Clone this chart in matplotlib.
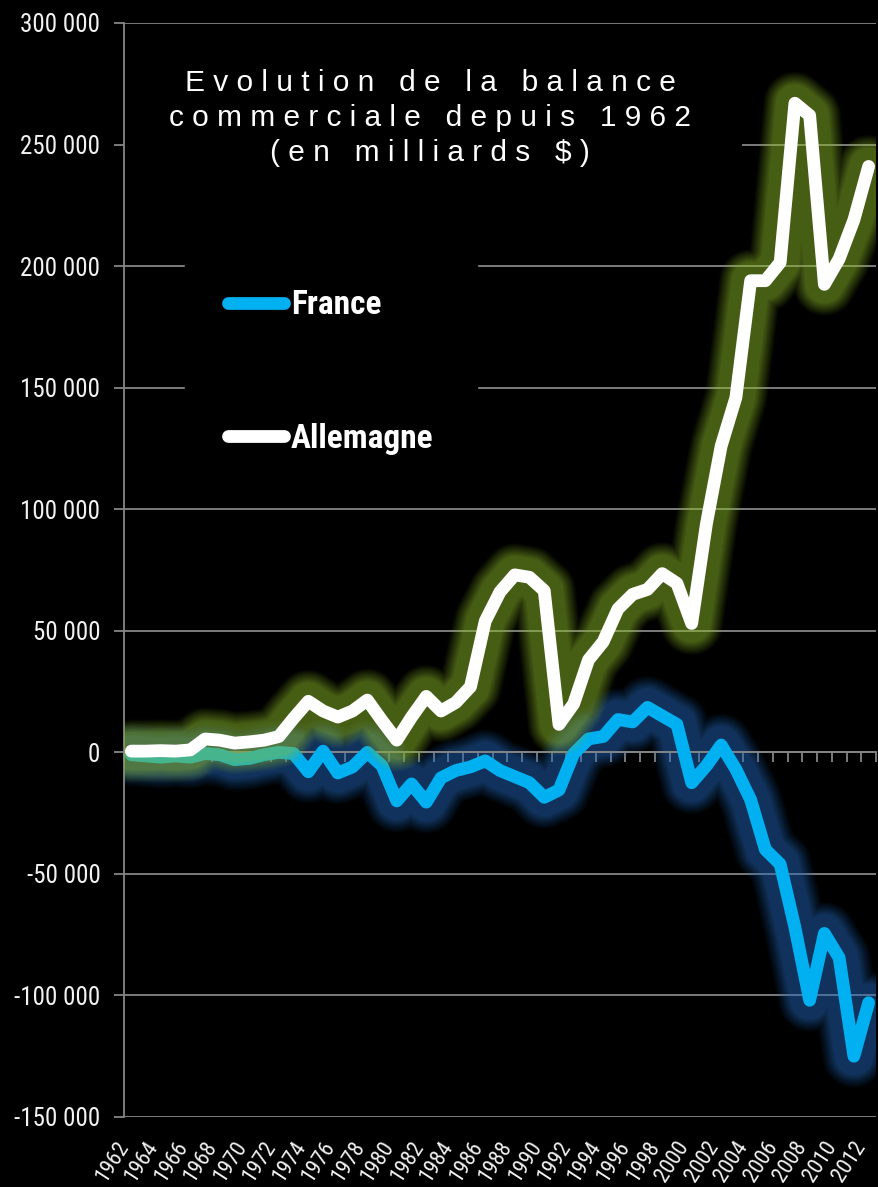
import numpy as np
import matplotlib
matplotlib.use("Agg")
import matplotlib.pyplot as plt
from matplotlib import font_manager as fm
from matplotlib.patches import Rectangle
from matplotlib.ticker import FuncFormatter, NullLocator
from matplotlib.transforms import ScaledTranslation

# ---------------- data ----------------
years = list(range(1962, 2013))
france = [-1000, -1500, -2000, -1500, -2000, -500, -1000, -3000, -2500, -1000,
          0, -500, -8000, 500, -8500, -6000, 0, -5500, -20000, -13000,
          -20500, -10500, -7500, -6000, -3500, -7500, -10000, -12500, -18500, -15500,
          -500, 5500, 6500, 13500, 12500, 18500, 15000, 11500, -12500, -5500,
          3000, -7000, -19500, -40000, -46000, -72000, -102000, -74500, -84500, -125000,
          -103000]
allemagne = [500, 500, 700, 500, 1000, 5500, 5000, 3800, 4300, 5000,
             6500, 14000, 21000, 17000, 14500, 17000, 21500, 13000, 5000, 14500,
             23000, 17000, 20500, 27000, 54000, 66000, 73000, 72000, 66500, 11500,
             20000, 38000, 45500, 59000, 65000, 67000, 73500, 69500, 53000, 94000,
             126000, 146000, 194000, 194000, 201500, 267000, 262000, 192500, 203000, 219000,
             241000]
y_ticks = [-150000, -100000, -50000, 0, 50000, 100000, 150000, 200000, 250000, 300000]
label_years = years[::2]
year_labels = [str(y) for y in label_years]
series_names = ["France", "Allemagne"]
title = "Evolution de la balance\ncommerciale depuis 1962\n(en milliards $)"

# ---------------- fonts ----------------
names = {f.name for f in fm.fontManager.ttflist}
narrow = next((n for n in ["Liberation Sans Narrow", "Roboto Condensed",
                           "Open Sans Condensed", "DejaVu Sans"] if n in names), "DejaVu Sans")
title_font = "Liberation Sans" if "Liberation Sans" in names else "DejaVu Sans"

GRID = "#858585"
W, H = 879, 1187

fig = plt.figure(figsize=(W / 100, H / 100), dpi=100, facecolor="black")
ax = fig.add_axes([124 / W, 1 - 1117 / H, (876 - 124) / W, (1117 - 23) / H])
ax.set_facecolor("black")
ax.set_xlim(years[0] - 0.5, years[-1] + 0.5)
ax.set_ylim(y_ticks[0], y_ticks[-1])

# y axis
ax.set_yticks(y_ticks)
ax.yaxis.set_major_formatter(FuncFormatter(lambda v, p: f"{int(v):,}".replace(",", " ")))
ax.grid(axis="y", color=GRID, lw=1.3)
ax.set_axisbelow(True)
ax.tick_params(axis="y", length=7, width=1.3, color=GRID, labelcolor="#f2f2f2",
               labelsize=18, pad=10)
for lab in ax.get_yticklabels():
    lab.set_fontfamily(narrow)

for s in ["top", "right"]:
    ax.spines[s].set_visible(False)
ax.spines["left"].set_color(GRID)
ax.spines["left"].set_linewidth(1.3)
ax.spines["bottom"].set_position(("data", 0))
ax.spines["bottom"].set_color(GRID)
ax.spines["bottom"].set_linewidth(1.3)

# x axis ticks on the zero line (between categories)
ax.set_xticks([])
ax.set_xticks(np.arange(years[0] - 0.5, years[-1] + 1.0, 1.0), minor=True)
ax.tick_params(axis="x", which="minor", length=7, width=1.3, color=GRID, direction="out")

# year labels at the bottom
sec = ax.secondary_xaxis("bottom")
sec.set_xticks(label_years, labels=year_labels)
sec.xaxis.set_minor_locator(NullLocator())
sec.spines["bottom"].set_visible(False)
sec.tick_params(length=0, pad=19, labelcolor="#f2f2f2", labelsize=16)
off = ScaledTranslation(-5 / 72, 0, fig.dpi_scale_trans)
for lab in sec.get_xticklabels():
    lab.set_rotation(57)
    lab.set_ha("right")
    lab.set_va("center")
    lab.set_rotation_mode("anchor")
    lab.set_fontfamily(narrow)
    lab.set_transform(lab.get_transform() + off)

# ---------------- lines with soft glow ----------------
x = np.array(years)
half_px = np.arange(18.0, 33.0, 1.0)          # glow half-widths in pixels
plateau, fade_end, peak = 19.0, 32.5, 0.5
frac = np.clip((half_px - plateau) / (fade_end - plateau), 0, 1)
prof = peak * (1 - frac)
trans = 1 - prof
alphas = []
for k in range(len(half_px)):
    nxt = trans[k + 1] if k + 1 < len(half_px) else 1.0
    alphas.append(max(0.0, 1 - trans[k] / nxt))
glow_layers = [(2 * d * 72 / 100, a) for d, a in zip(half_px, alphas) if a > 0.002]


def glow(yv, color, z):
    for w, a in glow_layers:
        ax.plot(x, yv, color=color, lw=w, alpha=a, solid_capstyle="round",
                solid_joinstyle="round", zorder=z)


glow(france, "#2970C2", 2)
lf, = ax.plot(x, france, color="#00B0F0", lw=9.2, solid_capstyle="round",
              solid_joinstyle="round", zorder=3, label=series_names[0])
glow(allemagne, "#99C633", 4)
la, = ax.plot(x, allemagne, color="white", lw=9.2, solid_capstyle="round",
              solid_joinstyle="round", zorder=5, label=series_names[1])

# title background and title
ax.add_patch(Rectangle((0, 0.838), 0.822, 0.155, transform=ax.transAxes,
                       facecolor="black", edgecolor="none", zorder=1))


def spaced(s):
    return "\n".join("   ".join(" ".join(w) for w in line.split(" ")) for line in s.split("\n"))


fig.text(430 / W, 1 - 118 / H, spaced(title), ha="center", va="center",
         color="white", fontsize=21.5, family=title_font, linespacing=1.32)

leg = ax.legend(handles=[lf, la], loc="upper left",
                bbox_to_anchor=(185 / W, 1 - 246 / H), bbox_transform=fig.transFigure,
                borderaxespad=0, borderpad=1.3, handlelength=1.68, handletextpad=0.2,
                labelspacing=3.05, frameon=True, fancybox=False,
                prop={"family": narrow, "weight": "bold", "size": 24})
leg.get_frame().set_facecolor("black")
leg.get_frame().set_edgecolor("black")
leg.get_frame().set_alpha(1)
for t in leg.get_texts():
    t.set_color("white")
for h in leg.legend_handles:
    h.set_solid_capstyle("round")

fig.savefig("out.png", dpi=100, facecolor="black")
